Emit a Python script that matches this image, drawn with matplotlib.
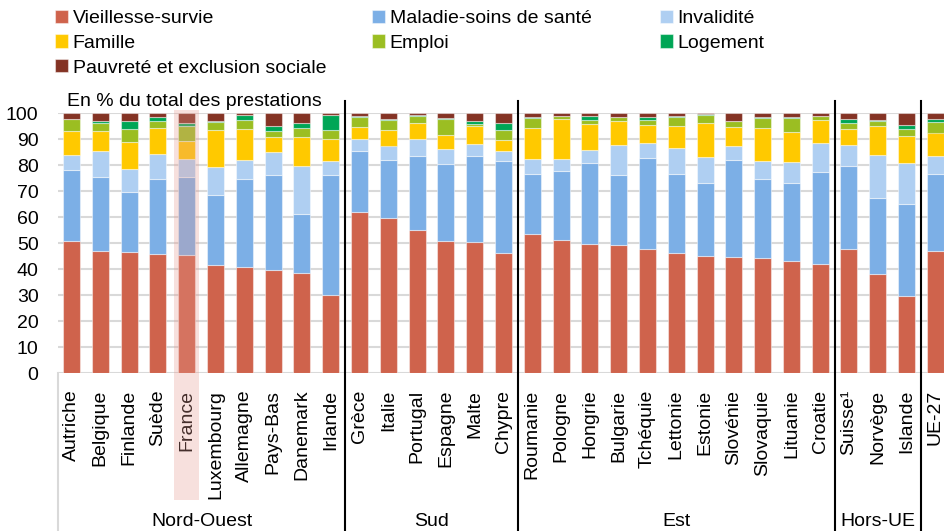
import numpy as np
import matplotlib.pyplot as plt
from matplotlib.patches import Rectangle
from matplotlib.transforms import blended_transform_factory

plt.rcParams['font.family'] = ['Liberation Sans', 'DejaVu Sans']
plt.rcParams['font.size'] = 14

pays = ['Autriche', 'Belgique', 'Finlande', 'Suède', 'France', 'Luxembourg',
        'Allemagne', 'Pays-Bas', 'Danemark', 'Irlande',
        'Grèce', 'Italie', 'Portugal', 'Espagne', 'Malte', 'Chypre',
        'Roumanie', 'Pologne', 'Hongrie', 'Bulgarie', 'Tchéquie', 'Lettonie',
        'Estonie', 'Slovénie', 'Slovaquie', 'Lituanie', 'Croatie',
        'Suisse¹', 'Norvège', 'Islande', 'UE-27']

groupes = ['Nord-Ouest', 'Sud', 'Est', 'Hors-UE']
taille_groupes = [10, 6, 11, 3]

categories = ['Vieillesse-survie', 'Maladie-soins de santé', 'Invalidité',
              'Famille', 'Emploi', 'Logement', 'Pauvreté et exclusion sociale']
couleurs = ['#CF634C', '#7CAFE6', '#AFCFF2', '#FFC900', '#9BBE22', '#00A656', '#843324']

vieillesse = [50.8, 46.8, 46.5, 45.8, 45.4, 41.5, 40.8, 39.6, 38.6, 29.9,
              62.1, 59.7, 55.1, 50.9, 50.3, 46.3,
              53.6, 51.3, 49.7, 49.4, 47.8, 46.3, 44.9, 44.5, 44.1, 43.0, 41.9,
              47.7, 38.0, 29.8, 46.8]
maladie = [27.2, 28.6, 23.1, 28.8, 30.0, 26.8, 33.8, 36.4, 22.6, 46.1,
           23.4, 22.3, 28.3, 29.3, 33.3, 35.3,
           23.0, 26.4, 31.1, 26.9, 34.8, 30.4, 28.1, 37.5, 30.5, 29.9, 35.5,
           31.8, 29.5, 35.3, 29.7]
invalidite = [5.7, 10.1, 8.9, 9.6, 6.8, 11.1, 7.2, 9.1, 18.4, 5.4,
              4.4, 5.5, 6.5, 6.0, 4.3, 3.7,
              5.8, 4.5, 4.9, 11.3, 5.8, 9.7, 10.0, 5.2, 7.1, 8.3, 11.0,
              8.2, 16.3, 15.7, 7.1]
famille = [9.3, 7.5, 10.3, 10.2, 6.9, 14.1, 11.9, 5.5, 11.0, 8.5,
           4.9, 5.9, 6.3, 5.5, 7.1, 4.5,
           12.0, 15.6, 10.2, 9.2, 6.9, 8.7, 13.0, 7.6, 12.5, 11.5, 8.8,
           6.0, 11.3, 10.2, 8.9]
emploi = [4.6, 3.3, 5.2, 2.5, 5.8, 3.0, 3.5, 2.5, 3.5, 3.7,
          3.7, 4.0, 2.5, 6.1, 0.7, 3.8,
          3.8, 0.9, 1.5, 1.5, 1.9, 3.2, 3.1, 2.0, 4.0, 5.4, 1.5,
          2.6, 1.7, 2.7, 3.9]
logement = [0.2, 0.6, 2.9, 1.4, 1.4, 0.4, 2.2, 1.9, 2.1, 5.6,
            0.5, 0.2, 0.4, 0.4, 1.4, 2.7,
            0.3, 0.3, 1.4, 0.3, 1.3, 0.7, 0.4, 0.3, 0.3, 0.4, 0.1,
            1.3, 0.4, 1.7, 1.3]
pauvrete = [2.2, 3.1, 3.1, 1.7, 3.7, 3.1, 0.6, 5.0, 3.8, 0.8,
            1.0, 2.4, 0.9, 1.8, 2.9, 3.7,
            1.5, 1.0, 1.2, 1.4, 1.5, 1.0, 0.5, 2.9, 1.5, 1.5, 1.2,
            2.4, 2.8, 4.6, 2.3]

series = [vieillesse, maladie, invalidite, famille, emploi, logement, pauvrete]

fig = plt.figure(figsize=(9.44, 5.31), dpi=100)
ax = fig.add_axes([58 / 944, 1 - 373 / 531, 886 / 944, 260 / 531])

x = np.arange(len(pays))
bas = np.zeros(len(pays))
handles = []
for nom, vals, c in zip(categories, series, couleurs):
    vals = np.array(vals)
    b = ax.bar(x, vals, 0.59, bottom=bas, color=c, label=nom,
               edgecolor=(1, 1, 1, 0.45), linewidth=0.8, zorder=3)
    handles.append(b)
    bas += vals

ax.set_xlim(-0.47, 30.3)
ax.set_ylim(0, 100)
ax.set_yticks(range(0, 101, 10))
ax.yaxis.grid(True, color='#D9D9D9', linewidth=1.5, zorder=0)
ax.set_axisbelow(True)
for s in ax.spines.values():
    s.set_visible(False)
ax.tick_params(axis='y', length=0, pad=14, labelsize=14)
ax.set_xticks(x)
ax.set_xticklabels(pays, rotation=90, va='top', ha='center')
ax.tick_params(axis='x', length=0, pad=12, labelsize=14)

ax.text(0.01, 1.045, 'En % du total des prestations', transform=ax.transAxes,
        fontsize=14, va='center', ha='left')

trans = blended_transform_factory(ax.transData, fig.transFigure)

# axe des catégories sous le zéro
ax.plot([-0.47, -0.47], [0, 1 - 373 / 531], transform=trans, color='#D9D9D9',
        linewidth=1.5, clip_on=False)

# séparateurs entre groupes et noms de groupes
debut = 0
for nom, n in zip(groupes, taille_groupes):
    fin = debut + n
    ax.plot([fin - 0.5, fin - 0.5], [0, 1 - 101 / 531], transform=trans,
            color='black', linewidth=1.5, clip_on=False, zorder=6)
    gauche = -0.47 if debut == 0 else debut - 0.5
    ax.text((gauche + fin - 0.5) / 2, 0.5 / 531, nom, transform=trans,
            ha='center', va='bottom', fontsize=14)
    debut = fin

# surbrillance de la France
i_fr = pays.index('France')
ax.add_patch(Rectangle((i_fr - 0.44, 1 - 500 / 531), 0.88, (500 - 110) / 531,
                       transform=trans, facecolor='#E59A90', alpha=0.3,
                       edgecolor='none', clip_on=False, zorder=5))

# légende en trois colonnes placées séparément
colonnes = [([0, 3, 6], 49), ([1, 4], 366), ([2, 5], 654)]
for idx, xpix in colonnes:
    leg = fig.legend([handles[i] for i in idx], [categories[i] for i in idx],
                     loc='upper left', bbox_to_anchor=(xpix / 944, 1 - 4 / 531),
                     frameon=False, fontsize=14, handlelength=0.67,
                     handleheight=0.67, handletextpad=0.25, labelspacing=0.37,
                     borderaxespad=0, borderpad=0.3)

fig.savefig('out.png', dpi=100)
